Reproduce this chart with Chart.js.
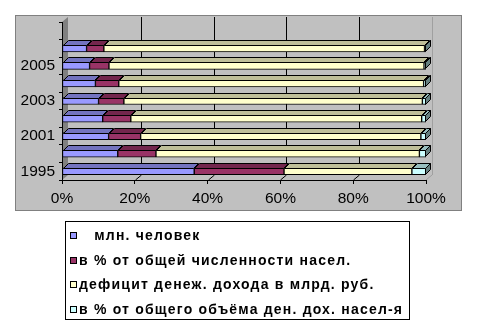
<!DOCTYPE html>
<html lang="ru">
<head>
    <meta charset="UTF-8">
    <title>Бедность населения</title>
    <style>
        body {
            margin: 0;
            background: #fff;
        }
        .wrap {
            position: relative;
            width: 478px;
            height: 329px;
        }
        #povertyChart {
            position: absolute;
            left: 0;
            top: 0;
        }
        .legend {
            position: absolute;
            left: 65px;
            top: 221px;
            width: 345px;
            height: 99px;
            box-sizing: border-box;
            border: 1px solid #000;
            background: #fff;
            font: bold 14px "Liberation Sans", Arial, sans-serif;
            letter-spacing: 1.2px;
            color: #000;
            padding-top: 1px;
        }
        .legend .row {
            position: relative;
            height: 24.5px;
            line-height: 24.5px;
            padding-left: 13px;
            white-space: pre;
        }
        .legend .sw {
            position: absolute;
            left: 4px;
            top: 9px;
            width: 5px;
            height: 5px;
            border: 1px solid #000;
        }
    </style>
    <script src="https://cdn.jsdelivr.net/npm/chart.js"></script>
    <script>
        // годы (верхняя строка пустая, как в исходной таблице)
        const years = ['1995', '2000', '2001', '2002', '2003', '2004', '2005', '2006', ''];
        const poorMln = [36.5, 42.3, 40.0, 35.6, 29.3, 25.2, 25.2, 21.6, null];
        const poorPct = [24.8, 29.0, 27.5, 24.6, 20.3, 17.6, 17.7, 15.2, null];
        const deficitBln = [35.3, 199.9, 240.6, 254.5, 239.3, 229.8, 287.9, 281.9, null];
        const deficitPct = [3.9, 5.0, 4.4, 3.8, 2.9, 1.8, 1.8, 1.3, null];
        const xTicks = [0, 20, 40, 60, 80, 100];

        const seriesLabels = [
            '   млн. человек',
            'в % от общей численности насел.',
            'дефицит денеж. дохода в млрд. руб.',
            'в % от общего объёма ден. дох. насел-я'
        ];
        const fronts = ['#9999FF', '#993366', '#FFFFCC', '#CCFFFF'];
        const tops = ['#7373BF', '#73264D', '#BFBF99', '#99BFBF'];
        const sideColor = '#668080';

        const DX = 6, DY = 5;   // глубина стенок
        const BX = 5, BY = 5;   // глубина самих полос
        const axisFont = { family: '"Liberation Sans", Arial, sans-serif', size: 15.5 };

        // 100% нормировка по каждому году
        function toPercent(series) {
            const all = [poorMln, poorPct, deficitBln, deficitPct];
            return series.map((v, i) => {
                if (v == null) return null;
                const total = all.reduce((s, a) => s + a[i], 0);
                return v / total * 100;
            });
        }

        const panel3d = {
            id: 'panel3d',
            beforeDraw(chart) {
                const { ctx, chartArea: { left, right, top, bottom }, scales: { x } } = chart;
                ctx.save();
                // серая подложка
                ctx.fillStyle = '#C0C0C0';
                ctx.fillRect(15, 15, 446, 195);
                ctx.strokeStyle = '#808080';
                ctx.lineWidth = 1;
                ctx.strokeRect(15.5, 15.5, 446, 195);

                // левая стенка
                ctx.fillStyle = '#808080';
                ctx.beginPath();
                ctx.moveTo(left, top);
                ctx.lineTo(left + DX, top - DY);
                ctx.lineTo(left + DX, bottom - DY);
                ctx.lineTo(left, bottom);
                ctx.closePath();
                ctx.fill();

                // правый край задней стенки и пола
                ctx.strokeStyle = '#A0A0A0';
                ctx.beginPath();
                ctx.moveTo(right + DX + 0.5, top - DY);
                ctx.lineTo(right + DX + 0.5, bottom - DY);
                ctx.moveTo(right, bottom);
                ctx.lineTo(right + DX, bottom - DY);
                ctx.stroke();

                // линии сетки: по полу и по задней стенке
                ctx.strokeStyle = '#000';
                ctx.beginPath();
                xTicks.forEach(v => {
                    if (v === 0 || v === 100) return;
                    const px = Math.round(x.getPixelForValue(v)) + 0.5;
                    ctx.moveTo(px, bottom);
                    ctx.lineTo(px + DX, bottom - DY);
                    ctx.lineTo(px + DX, top - DY);
                });
                ctx.stroke();
                ctx.restore();
            },
            afterDatasetsDraw(chart) {
                const { ctx } = chart;
                const last = chart.data.datasets.length - 1;
                ctx.save();
                ctx.strokeStyle = '#000';
                ctx.lineWidth = 1;
                ctx.lineJoin = 'round';
                chart.data.datasets.forEach((ds, di) => {
                    const meta = chart.getDatasetMeta(di);
                    meta.data.forEach((bar, i) => {
                        if (ds.data[i] == null) return;
                        const p = bar.getProps(['x', 'y', 'base', 'height'], true);
                        const x0 = Math.round(Math.min(p.base, p.x)) + 0.5;
                        const x1 = Math.round(Math.max(p.base, p.x)) - 0.5;
                        const yt = Math.round(p.y - p.height / 2) + 0.5;
                        const yb = yt + p.height - 1;
                        ctx.fillStyle = tops[di];
                        ctx.beginPath();
                        ctx.moveTo(x0, yt);
                        ctx.lineTo(x0 + BX, yt - BY);
                        ctx.lineTo(x1 + BX, yt - BY);
                        ctx.lineTo(x1, yt);
                        ctx.closePath();
                        ctx.fill();
                        ctx.stroke();
                        if (di === last) {
                            ctx.fillStyle = sideColor;
                            ctx.beginPath();
                            ctx.moveTo(x1, yt);
                            ctx.lineTo(x1 + BX, yt - BY);
                            ctx.lineTo(x1 + BX, yb - BY);
                            ctx.lineTo(x1, yb);
                            ctx.closePath();
                            ctx.fill();
                            ctx.stroke();
                        }
                    });
                });
                ctx.restore();
            }
        };

        function onLoad() {
            const data = [poorMln, poorPct, deficitBln, deficitPct];
            const ctx = document.getElementById('povertyChart').getContext('2d');
            new Chart(ctx, {
                type: 'bar',
                data: {
                    labels: years,
                    datasets: data.map((series, k) => ({
                        label: seriesLabels[k],
                        data: toPercent(series),
                        backgroundColor: fronts[k],
                        borderColor: '#000',
                        borderWidth: 1,
                        borderSkipped: false,
                        barThickness: 7
                    }))
                },
                options: {
                    indexAxis: 'y',
                    responsive: false,
                    animation: false,
                    layout: {
                        padding: { left: 15, right: 52, top: 22, bottom: 119 }
                    },
                    plugins: {
                        legend: { display: false },
                        tooltip: { enabled: false }
                    },
                    scales: {
                        x: {
                            stacked: true,
                            min: 0,
                            max: 100,
                            afterBuildTicks: s => { s.ticks = xTicks.map(v => ({ value: v })); },
                            afterFit: s => { s.height = 30; },
                            ticks: {
                                callback: v => v + '%',
                                color: '#000',
                                font: axisFont,
                                padding: 5,
                                maxRotation: 0
                            },
                            grid: { drawOnChartArea: false, color: '#000', tickLength: 4 },
                            border: { color: '#000' }
                        },
                        y: {
                            stacked: true,
                            reverse: true,
                            afterFit: s => { s.width = 47; },
                            ticks: {
                                autoSkip: false,
                                callback: (v, i) => (i % 2 === 0 ? years[i] : ''),
                                color: '#000',
                                font: axisFont,
                                padding: 4
                            },
                            grid: { offset: true, drawOnChartArea: false, color: '#000', tickLength: 3 },
                            border: { color: '#000' }
                        }
                    }
                },
                plugins: [panel3d]
            });

            // легенда
            const legend = document.getElementById('legend');
            seriesLabels.forEach((text, k) => {
                const row = document.createElement('div');
                row.className = 'row';
                const sw = document.createElement('span');
                sw.className = 'sw';
                sw.style.background = fronts[k];
                row.appendChild(sw);
                row.appendChild(document.createTextNode(text));
                legend.appendChild(row);
            });
        }

        window.onload = onLoad;
    </script>
</head>
<body>
<div class="wrap">
    <canvas id="povertyChart" width="478" height="329"></canvas>
    <div class="legend" id="legend"></div>
</div>
</body>
</html>
